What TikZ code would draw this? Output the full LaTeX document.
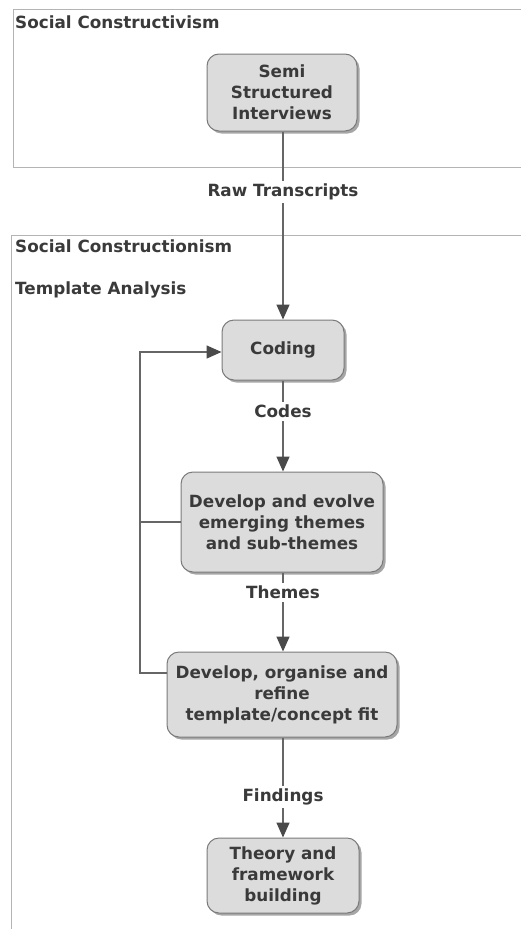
\documentclass[tikz,border=0pt]{standalone}
\usepackage{fontspec}
\setmainfont{DejaVu Sans}
\usetikzlibrary{arrows.meta,shadows}
\definecolor{txt}{HTML}{3A3A3A}
\definecolor{boxfill}{HTML}{DCDCDC}
\definecolor{boxline}{HTML}{7A7A7A}
\definecolor{wire}{HTML}{666666}
\definecolor{tipcol}{HTML}{4A4A4A}
\definecolor{frameline}{HTML}{B4B4B4}
\begin{document}
\begin{tikzpicture}[x=1pt,y=-1pt,
  every node/.style={text=txt,font=\fontsize{16.8}{21}\selectfont\bfseries},
  stepbox/.style={draw=boxline,line width=1pt,fill=boxfill,rounded corners=12pt,
    align=center,inner sep=0pt,
    drop shadow={shadow xshift=2.5pt,shadow yshift=-2.5pt,fill=black,opacity=.35}},
  frame/.style={draw=frameline,line width=1pt},
  flow/.style={draw=wire,line width=1.5pt},
  tip/.style={-{Triangle[length=15pt,width=13pt,color=tipcol]}},
  edgelabel/.style={fill=white,inner sep=3pt},
  paneltitle/.style={anchor=west,inner sep=0pt}]
\useasboundingbox (0,0) rectangle (520,929);

% panels
\draw[frame] (13,9) rectangle (530,167);
\draw[frame] (11,235) rectangle (530,940);
\node[paneltitle] (t1) at (15,22) {Social Constructivism};
\node[paneltitle] (t2) at (15,246) {Social Constructionism};
\node[paneltitle] (t3) at (15,290) {Template Analysis};

% steps
\node[stepbox,minimum width=150pt,minimum height=77pt] (semi) at (282,92.5)
  {Semi\\Structured\\Interviews};
\node[stepbox,minimum width=122pt,minimum height=60pt] (coding) at (283,350) {Coding};
\node[stepbox,minimum width=202pt,minimum height=100pt] (dev1) at (282,522)
  {Develop and evolve\\emerging themes\\and sub-themes};
\node[stepbox,minimum width=230pt,minimum height=85pt] (dev2) at (282,694.5)
  {Develop, organise and\\refine\\template/concept fit};
\node[stepbox,minimum width=152pt,minimum height=75pt] (theory) at (283,875.5)
  {Theory and\\framework\\building};

% main flow
\draw[flow,tip] (semi.south -| coding.north) -- (coding.north);
\draw[flow,tip] (coding.south) -- (coding.south |- dev1.north);
\draw[flow,tip] (dev1.south -| coding.south) -- (coding.south |- dev2.north);
\draw[flow,tip] (dev2.south -| theory.north) -- (theory.north);

% feedback loop
\coordinate (lb) at (140,673);
\coordinate (lt) at (140,352);
\draw[flow,tip] (dev2.west |- lb) -- (lb) -- (lt) -- (coding.west |- lt);
\draw[flow] (dev1.west) -- (dev1.west -| lb);

% edge labels
\node[edgelabel] (l1) at (283,192) {Raw Transcripts};
\node[edgelabel] (l2) at (283,411) {Codes};
\node[edgelabel] (l3) at (283,592) {Themes};
\node[edgelabel] (l4) at (283,797) {Findings};
\end{tikzpicture}
\end{document}
